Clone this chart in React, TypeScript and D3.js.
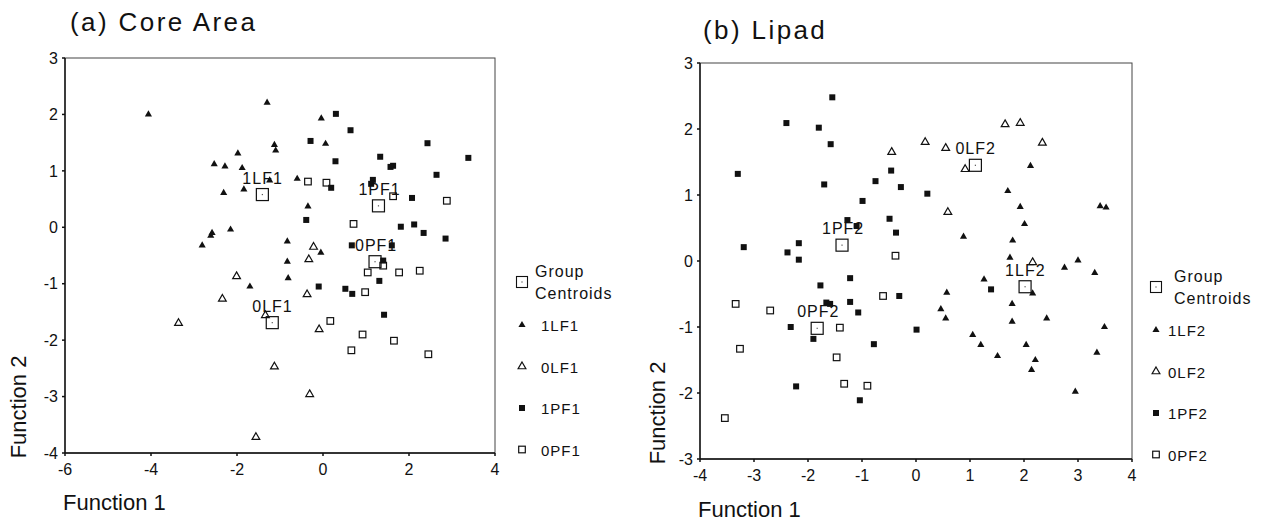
import React from "react";
import * as d3 from "d3";

type Pt = [number, number];

// axis ticks
const coreXTicks = [-6, -4, -2, 0, 2, 4];
const coreYTicks = [-4, -3, -2, -1, 0, 1, 2, 3];
const lipadXTicks = [-4, -3, -2, -1, 0, 1, 2, 3, 4];
const lipadYTicks = [-3, -2, -1, 0, 1, 2, 3];

// (a) Core Area - discriminant scores
const core1LF1: Pt[] = [
  [-4.06, 2.0], [-1.98, 1.31], [-2.53, 1.12], [-2.28, 1.08], [-1.88, 1.05],
  [-2.31, 0.61], [-1.84, 0.67], [-2.15, -0.04], [-2.61, -0.15], [-2.58, -0.1],
  [-2.81, -0.32], [-1.7, -1.05], [-1.3, 2.21], [-0.04, 1.93], [-1.13, 1.46],
  [-1.1, 1.36], [0.06, 1.48], [-1.24, 0.83], [-0.6, 0.86], [-0.35, 0.37],
  [-0.83, -0.25], [-0.05, -0.45], [-0.83, -0.61], [-0.81, -0.9],
];
const core0LF1: Pt[] = [
  [-2.01, -0.87], [-0.22, -0.35], [-0.33, -0.57], [-2.34, -1.27], [-3.36, -1.7],
  [-1.56, -3.72], [-0.37, -1.19], [-1.34, -1.56], [-0.09, -1.81], [-1.13, -2.47],
  [-0.31, -2.96],
];
const core1PF1: Pt[] = [
  [0.3, 2.01], [0.64, 1.72], [-0.29, 1.53], [2.43, 1.49], [0.29, 1.17],
  [1.33, 1.25], [1.63, 1.09], [1.57, 1.07], [3.38, 1.23], [2.64, 0.93],
  [0.19, 0.7], [1.16, 0.84], [1.12, 0.77], [2.07, 0.52], [-0.39, 0.13],
  [1.81, 0.01], [2.12, 0.05], [2.34, -0.1], [2.85, -0.2], [0.67, -0.32],
  [1.6, -0.32], [1.4, -0.59], [1.31, -0.95], [-0.1, -1.05], [0.52, -1.09],
  [0.68, -1.18], [1.42, -1.55],
];
const core0PF1: Pt[] = [
  [-0.35, 0.81], [0.08, 0.79], [1.63, 0.55], [2.88, 0.47], [0.71, 0.06],
  [1.4, -0.68], [1.04, -0.8], [1.77, -0.8], [2.25, -0.77], [0.98, -1.15],
  [0.17, -1.66], [0.92, -1.9], [1.65, -2.01], [0.66, -2.18], [2.45, -2.25],
];
const coreCentroidNames = ["1LF1", "1PF1", "0PF1", "0LF1"];
const coreCentroids: Pt[] = [[-1.41, 0.58], [1.29, 0.38], [1.21, -0.61], [-1.18, -1.69]];

// (b) Lipad
const lipad1LF2: Pt[] = [
  [2.12, 1.44], [1.7, 1.06], [1.93, 0.82], [3.41, 0.83], [3.52, 0.81],
  [2.01, 0.56], [0.88, 0.37], [1.79, 0.31], [1.74, 0.05], [2.75, -0.1],
  [3.0, 0.01], [3.31, -0.18], [1.26, -0.28], [0.57, -0.48], [2.16, -0.49],
  [1.78, -0.65], [0.46, -0.73], [0.55, -0.87], [1.78, -0.92], [2.42, -0.87],
  [3.49, -1.0], [1.05, -1.12], [1.2, -1.27], [2.04, -1.27], [1.51, -1.44],
  [3.35, -1.39], [2.21, -1.5], [2.14, -1.65], [2.95, -1.98],
];
const lipad0LF2: Pt[] = [
  [1.65, 2.07], [1.93, 2.09], [0.17, 1.8], [0.55, 1.71], [2.34, 1.79],
  [-0.45, 1.65], [0.91, 1.39], [0.59, 0.74], [2.16, -0.02],
];
const lipad1PF2: Pt[] = [
  [-1.55, 2.48], [-2.4, 2.09], [-1.8, 2.02], [-1.58, 1.77], [-3.3, 1.32],
  [-1.7, 1.16], [-0.75, 1.21], [-0.99, 0.91], [-1.27, 0.62], [-1.1, 0.53],
  [-3.19, 0.21], [-2.17, 0.27], [-2.38, 0.13], [-2.17, 0.02], [-1.22, -0.26],
  [-1.77, -0.37], [-0.46, 1.37], [-0.28, 1.12], [0.21, 1.02], [-0.49, 0.64],
  [-0.37, 0.43], [1.39, -0.43], [-0.31, -0.53], [0.01, -1.04], [-0.78, -1.26],
  [-1.66, -0.63], [-1.59, -0.65], [-1.22, -0.62], [-1.07, -0.78], [-2.32, -1.0],
  [-1.9, -1.18], [-2.22, -1.9], [-1.04, -2.11],
];
const lipad0PF2: Pt[] = [
  [-0.38, 0.08], [-0.61, -0.53], [-3.34, -0.65], [-2.7, -0.75], [-1.41, -1.01],
  [-3.26, -1.33], [-1.47, -1.46], [-1.33, -1.86], [-0.9, -1.89], [-3.54, -2.38],
];
const lipadCentroidNames = ["1PF2", "0LF2", "1LF2", "0PF2"];
const lipadCentroids: Pt[] = [[-1.37, 0.24], [1.1, 1.45], [2.02, -0.39], [-1.83, -1.02]];

const FONT = "'Liberation Sans', Arial, Helvetica, sans-serif";
const INK = "#111";

type Kind = "triFill" | "triOpen" | "sqFill" | "sqOpen";

const triFill = d3.symbol(d3.symbolTriangle, 22)()!;
const triOpen = d3.symbol(d3.symbolTriangle, 26)()!;

function Marker({ kind, x, y }: { kind: Kind; x: number; y: number }) {
  if (kind === "triFill")
    return <path d={triFill} transform={`translate(${x},${y})`} fill={INK} />;
  if (kind === "triOpen")
    return (
      <path d={triOpen} transform={`translate(${x},${y})`} fill="#fff" stroke={INK} strokeWidth={1.2} />
    );
  if (kind === "sqFill")
    return <rect x={x - 3} y={y - 3} width={6} height={6} fill={INK} />;
  return <rect x={x - 3.3} y={y - 3.3} width={6.6} height={6.6} fill="#fff" stroke={INK} strokeWidth={1.2} />;
}

type PanelProps = {
  title: string;
  titleX: number;
  titleY: number;
  box: { x0: number; x1: number; y0: number; y1: number };
  xTicks: number[];
  yTicks: number[];
  groups: { name: string; kind: Kind; pts: Pt[] }[];
  centroidNames: string[];
  centroids: Pt[];
  yLabelX: number;
  xLabelY: number;
  legend: { x: number; y: number; textX: number; groupX: number };
};

function Panel(p: PanelProps) {
  const { box } = p;
  const x = d3.scaleLinear().domain(d3.extent(p.xTicks) as [number, number]).range([box.x0, box.x1]);
  const y = d3.scaleLinear().domain(d3.extent(p.yTicks) as [number, number]).range([box.y1, box.y0]);
  // draw order: open markers first, filled on top
  const drawOrder = [...p.groups].sort((a, b) =>
    (a.kind.endsWith("Open") ? 0 : 1) - (b.kind.endsWith("Open") ? 0 : 1)
  );
  const legendStep = 41.5;
  return (
    <g fontFamily={FONT} fill={INK}>
      <text x={p.titleX} y={p.titleY} fontSize={26} letterSpacing={2.4}>{p.title}</text>

      {/* frame */}
      <rect x={box.x0} y={box.y0} width={box.x1 - box.x0} height={box.y1 - box.y0}
        fill="none" stroke="#444" strokeWidth={1} />
      <line x1={box.x0} x2={box.x0} y1={box.y0} y2={box.y1} stroke={INK} strokeWidth={1.4} />
      <line x1={box.x0} x2={box.x1} y1={box.y1} y2={box.y1} stroke={INK} strokeWidth={1.4} />

      {p.yTicks.map((t) => (
        <g key={"y" + t}>
          <line x1={box.x0 - 3} x2={box.x0} y1={y(t)} y2={y(t)} stroke={INK} strokeWidth={1.5} />
          <text x={box.x0 - 7} y={y(t)} dy="0.36em" textAnchor="end" fontSize={16}>{t}</text>
        </g>
      ))}
      {p.xTicks.map((t) => (
        <g key={"x" + t}>
          <line x1={x(t)} x2={x(t)} y1={box.y1} y2={box.y1 + 3} stroke={INK} strokeWidth={1.5} />
          <text x={x(t)} y={box.y1 + 22} textAnchor="middle" fontSize={16}>{t}</text>
        </g>
      ))}

      <text x={box.x0 - 2} y={p.xLabelY} fontSize={22}>Function 1</text>
      <text transform={`translate(${p.yLabelX},${box.y1 - 46}) rotate(-90)`}
        textAnchor="middle" dy="0.36em" fontSize={22}>Function 2</text>

      {drawOrder.map((g) =>
        g.pts.map((d, i) => <Marker key={g.name + i} kind={g.kind} x={x(d[0])} y={y(d[1])} />)
      )}

      {p.centroids.map((c, i) => (
        <g key={"c" + i}>
          <rect x={x(c[0]) - 6} y={y(c[1]) - 6} width={12} height={12} fill="none" stroke={INK} strokeWidth={1.2} />
          <rect x={x(c[0]) - 0.6} y={y(c[1]) - 0.6} width={1.2} height={1.2} fill="#555" />
          <text x={x(c[0]) - 20} y={y(c[1]) - 11} fontSize={16} letterSpacing={1}>{p.centroidNames[i]}</text>
        </g>
      ))}

      {/* legend */}
      <rect x={p.legend.x - 5.5} y={p.legend.y - 5.5} width={11} height={11} fill="none" stroke={INK} strokeWidth={1.1} />
      <rect x={p.legend.x - 0.6} y={p.legend.y - 0.6} width={1.2} height={1.2} fill="#555" />
      <text x={p.legend.groupX} y={p.legend.y - 5} fontSize={16} letterSpacing={1}>Group</text>
      <text x={p.legend.groupX} y={p.legend.y + 17} fontSize={16} letterSpacing={1}>Centroids</text>
      {p.groups.map((g, i) => {
        const ly = p.legend.y + 43 + i * legendStep;
        return (
          <g key={"l" + g.name}>
            <Marker kind={g.kind} x={p.legend.x} y={ly} />
            <text x={p.legend.textX} y={ly + 6} fontSize={15} letterSpacing={1}>{g.name}</text>
          </g>
        );
      })}
    </g>
  );
}

export default function App() {
  return (
    <div style={{ position: "absolute", left: 0, top: 0, background: "#fff" }}>
      <svg width={1263} height={521} viewBox="0 0 1263 521">
        <rect width={1263} height={521} fill="#fff" />
        <Panel
          title="(a) Core Area"
          titleX={70}
          titleY={31}
          box={{ x0: 65, x1: 495, y0: 58, y1: 453 }}
          xTicks={coreXTicks}
          yTicks={coreYTicks}
          groups={[
            { name: "1LF1", kind: "triFill", pts: core1LF1 },
            { name: "0LF1", kind: "triOpen", pts: core0LF1 },
            { name: "1PF1", kind: "sqFill", pts: core1PF1 },
            { name: "0PF1", kind: "sqOpen", pts: core0PF1 },
          ]}
          centroidNames={coreCentroidNames}
          centroids={coreCentroids}
          yLabelX={18}
          xLabelY={510}
          legend={{ x: 522, y: 282, textX: 541, groupX: 535 }}
        />
        <Panel
          title="(b) Lipad"
          titleX={703}
          titleY={39}
          box={{ x0: 700, x1: 1132, y0: 63, y1: 459 }}
          xTicks={lipadXTicks}
          yTicks={lipadYTicks}
          groups={[
            { name: "1LF2", kind: "triFill", pts: lipad1LF2 },
            { name: "0LF2", kind: "triOpen", pts: lipad0LF2 },
            { name: "1PF2", kind: "sqFill", pts: lipad1PF2 },
            { name: "0PF2", kind: "sqOpen", pts: lipad0PF2 },
          ]}
          centroidNames={lipadCentroidNames}
          centroids={lipadCentroids}
          yLabelX={657}
          xLabelY={517}
          legend={{ x: 1156, y: 287, textX: 1168, groupX: 1174 }}
        />
      </svg>
    </div>
  );
}
